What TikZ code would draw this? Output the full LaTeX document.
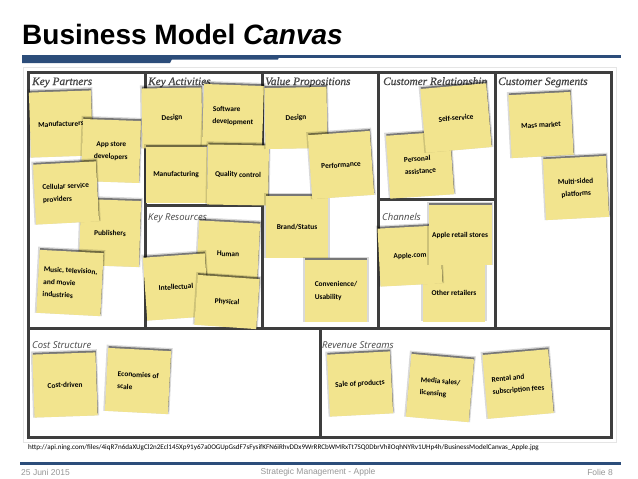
\documentclass[tikz,border=0pt]{standalone}
\usepackage{fontspec}
\setmainfont{Liberation Sans}
\newfontfamily\notefont{Carlito}
\newfontfamily\headserif[FakeBold=0.8]{Liberation Serif}
\newfontfamily\headsans{Open Sans}
\usetikzlibrary{shadows}

\definecolor{noteyellow}{RGB}{242,228,142}
\definecolor{slideblue}{RGB}{44,77,122}
\definecolor{framegray}{RGB}{62,62,62}
\definecolor{headgray}{RGB}{70,70,70}
\definecolor{footgray}{RGB}{150,150,150}

\begin{document}
\begin{tikzpicture}[x=1pt,y=-1pt,
    note/.style={rectangle, fill=noteyellow, inner sep=2pt, align=center,
        font=\notefont\bfseries\fontsize{7.4}{12.5}\selectfont,
        general shadow={fill=black, opacity=.15, shadow scale=1.05, shadow yshift=1.5pt},
        general shadow={fill=black, opacity=.45, shadow yshift=1.8pt, shadow xshift=.4pt}},
    head/.style={anchor=base west, inner sep=0pt, text=headgray,
        font=\headserif\itshape\fontsize{11.3}{12}\selectfont},
    headsans/.style={head, font=\headsans\itshape\fontsize{9.5}{11}\selectfont},
    divider/.style={draw=framegray, line width=3pt},
    foot/.style={inner sep=0pt, text=footgray, font=\fontsize{8.5}{10}\selectfont}]

    \useasboundingbox (0,0) rectangle (638,479);

    % Title and blue bar
    \node[anchor=base west, inner sep=0pt, font=\bfseries\fontsize{28}{30}\selectfont] (title) at (22,44) {Business Model \textit{Canvas}};
    \fill[slideblue] (22,55) rectangle (621,58);
    \fill[slideblue] (22,55) -- (174,55) -- (170,63) -- (22,63) -- cycle;
    \fill[slideblue] (170,55) -- (280,55) -- (278,59.5) -- (170,59.5) -- cycle;

    % Canvas frame
    \draw[gray!20] (23,67) rectangle (616,442);
    \draw[divider] (28,72) rectangle (611,437);
    \draw[divider] (28,328) -- (611,328);
    \foreach \x in {145,262,378,495} {
        \draw[divider] (\x,72) -- (\x,328);
    }
    \draw[divider] (145,205) -- (262,205);
    \draw[divider] (378,199) -- (495,199);
    \draw[divider] (320,328) -- (320,437);

    % Block titles
    \node[head] (kp) at (32,85) {Key Partners};
    \node[head] (ka) at (148,85) {Key Activities};
    \node[head] (vp) at (265,85) {Value Propositions};
    \node[head] (cr) at (383,85) {Customer Relationship};
    \node[head] (cs) at (498,85) {Customer Segments};
    \node[headsans] (kr) at (148,220) {Key Resources};
    \node[headsans] (ch) at (382,220) {Channels};
    \node[headsans] (cost) at (32,348) {Cost Structure};
    \node[headsans] (rev) at (322,348) {Revenue Streams};

    % Sticky notes: name/x/y/width/height/rotation/align/text
    \foreach \nm/\x/\y/\w/\h/\r/\al/\txt in {
        man/61/124/62/65/2/center/Manufacturers,
        app/111/151/58/62/-2/center/{App store\\developers},
        pub/110/233/60/66/-2/center/Publishers,
        cel/66/193/63/60/3/left/{Cellular service\\providers},
        mus/70/283/64/63/-3/left/{Music, television,\\and movie\\industries},
        kad/172/118/60/60/1/center/Design,
        sw/233/116/60/62/-2/left/{Software\\development},
        mfg/176/175/61/56/0/center/Manufacturing,
        qc/238/175/61/60/-1/center/Quality control,
        hum/228/254/61/64/-3/center/Human,
        int/176/287/62/63/4/center/Intellectual,
        phy/227/302/62/50/-4/center/Physical,
        vpd/296/118/62/61/1/center/Design,
        bra/297/227/62/62/0/center/{Brand/Status},
        per/341/165/62/64/4/center/Performance,
        con/336/291/62/62/0/left/{Convenience/\\Usability},
        pa/420/165/64/63/4/left/{Personal\\assistance},
        ss/456/118/66/64/5/center/Self-service,
        oth/454/293/62/57/0/center/Other retailers,
        acom/410/256/62/58/3/center/Apple.com,
        ars/460/235/63/60/0/center/Apple retail stores,
        mm/541/125/62/63/3/center/Mass market,
        ms/576/188/63/61/3/center/{Multi-sided\\platforms},
        cd/65/385/63/63/2/center/Cost-driven,
        eos/138/381/63/63/-3/left/{Economies of\\scale},
        sop/360/384/63/62/3/center/Sale of products,
        med/440/388/63/63/-5/left/{Media sales/\\licensing},
        ren/518/384/66/64/5/left/{Rental and\\subscription fees}} {
        \node[note, minimum width=\w, minimum height=\h, rotate=\r, align=\al] (\nm) at (\x,\y) {\txt};
    }

    % Source and footer
    \node[anchor=west, inner sep=0pt, font=\notefont\fontsize{7.1}{8}\selectfont] (src) at (28,448)
        {http://api.ning.com/files/4iqR7n6daXUgCl2n2Ecl145Xp91y67a0OGUpGsdF7sFysifKFN6iRhvDDx9WrRRCbWMRxTt7SQ0DbrVhilOqhNYRv1UHp4h/BusinessModelCanvas\_Apple.jpg};
    \fill[slideblue] (20,462) rectangle (621,464.5);
    \node[foot, anchor=west] (date) at (21,472) {25 Juni 2015};
    \node[foot] (topic) at (318,472) {Strategic Management - Apple};
    \node[foot, anchor=east] (slide) at (613,472) {Folie 8};
\end{tikzpicture}
\end{document}
